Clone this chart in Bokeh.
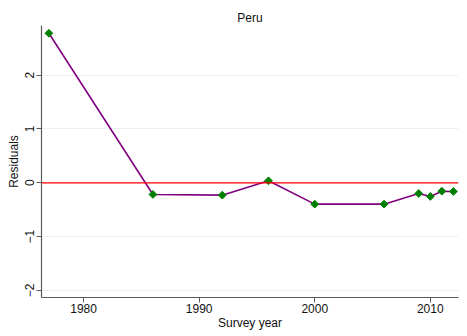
import math
from bokeh.plotting import figure
from bokeh.models import Range1d, FixedTicker, Span
from bokeh.embed import file_html
from bokeh.resources import INLINE

years = [1977, 1986, 1992, 1996, 2000, 2006, 2009, 2010, 2011, 2012]
residuals = [2.776, -0.217, -0.23, 0.037, -0.397, -0.397, -0.199, -0.254, -0.156, -0.161]
x_ticks = [1980, 1990, 2000, 2010]
y_ticks = [-2, -1, 0, 1, 2]

FONT = "Liberation Sans"

p = figure(width=467, height=336, output_backend="svg", toolbar_location=None,
           x_range=Range1d(1976.36, 2012.44), y_range=Range1d(-2.13, 2.92),
           min_border_left=41, min_border_right=9, min_border_top=25, min_border_bottom=39)
p.title.text = "Peru"
p.title.align = "center"
p.title.standoff = 2
p.title.text_font = FONT
p.title.text_font_size = "12px"
p.title.text_font_style = "normal"
p.title.text_color = "#111111"

p.outline_line_color = None
p.xgrid.visible = False
p.ygrid.ticker = FixedTicker(ticks=y_ticks)
p.ygrid.grid_line_color = "#eaf0f3"
p.ygrid.grid_line_width = 1

p.xaxis.ticker = FixedTicker(ticks=x_ticks)
p.yaxis.ticker = FixedTicker(ticks=y_ticks)
p.yaxis.major_label_overrides = {-2: "−2", -1: "−1"}
p.yaxis.major_label_orientation = "vertical"
for ax in (p.xaxis, p.yaxis):
    ax.axis_line_color = "#5a5a5a"
    ax.axis_line_width = 1.2
    ax.major_tick_line_color = "#5a5a5a"
    ax.major_tick_out = 5
    ax.major_tick_in = 0
    ax.minor_tick_line_color = None
    ax.major_label_text_font = FONT
    ax.major_label_text_font_size = "12px"
    ax.major_label_text_color = "#111111"
    ax.axis_label_text_font = FONT
    ax.axis_label_text_font_size = "12px"
    ax.axis_label_text_font_style = "normal"
    ax.axis_label_text_color = "#111111"
p.xaxis.axis_label = "Survey year"
p.yaxis.axis_label = "Residuals"
p.xaxis.major_label_standoff = 1
p.yaxis.major_label_standoff = 2
p.xaxis.axis_label_standoff = 0
p.yaxis.axis_label_standoff = 2

p.add_layout(Span(location=0, dimension="width", line_color="red", line_width=1.2))

p.line(years, residuals, line_color="#800080", line_width=1.6)
p.scatter(years, residuals, marker="square", size=5.5, angle=math.pi / 4,
          fill_color="#008000", line_color="#008000")

open("out.html", "w").write(file_html(p, INLINE))
